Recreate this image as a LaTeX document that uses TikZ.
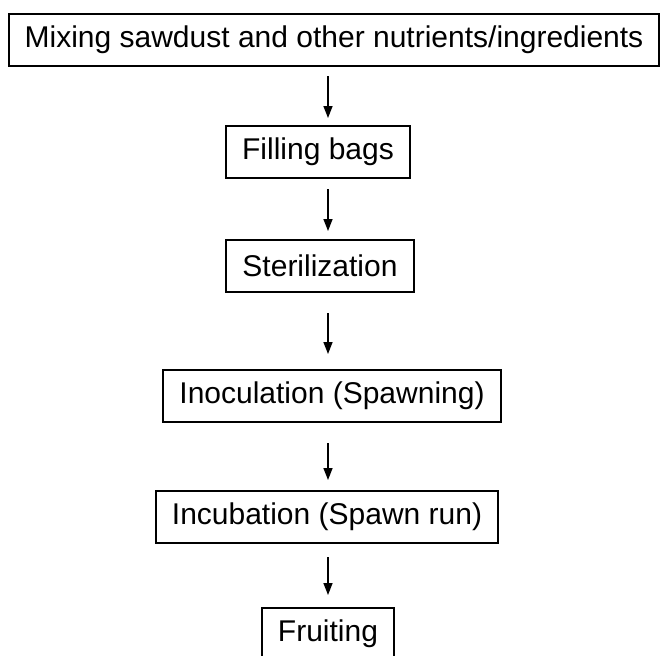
\documentclass[tikz,border=0pt]{standalone}
\usepackage{fontspec}
\setmainfont{Liberation Sans}
\usetikzlibrary{arrows.meta}

\begin{document}
\begin{tikzpicture}[x=0.5pt, y=-0.5pt,
	stage/.style={draw, line width=1pt, minimum height=26pt, inner xsep=8pt,
		font=\fontsize{15pt}{18pt}\selectfont},
	flow/.style={-{Triangle[length=6pt, width=4.5pt]}, line width=0.75pt}]
	\useasboundingbox (0,0) rectangle (663,655);
	% Draw the stages
	\node[stage] (mix)   at (334,40)  {Mixing sawdust and other nutrients/ingredients};
	\node[stage] (fill)  at (318,152) {Filling bags};
	\node[stage] (ster)  at (320,266) {Sterilization};
	\node[stage] (inoc)  at (332,396) {Inoculation (Spawning)};
	\node[stage] (incub) at (327,517) {Incubation (Spawn run)};
	\node[stage] (fruit) at (328,634) {Fruiting};
	% Connect the stages with arrows
	\draw[flow, shorten <=4.5pt, shorten >=3.5pt] (mix.south -| fruit) -- (fill.north -| fruit);
	\draw[flow, shorten <=5pt, shorten >=4pt] (fill.south -| fruit) -- (ster.north -| fruit);
	\draw[flow, shorten <=10pt, shorten >=7.5pt] (ster.south -| fruit) -- (inoc.north -| fruit);
	\draw[flow, shorten <=10pt, shorten >=5pt] (inoc.south -| fruit) -- (incub.north -| fruit);
	\draw[flow, shorten <=6.5pt, shorten >=6pt] (incub.south -| fruit) -- (fruit.north -| fruit);
\end{tikzpicture}
\end{document}
